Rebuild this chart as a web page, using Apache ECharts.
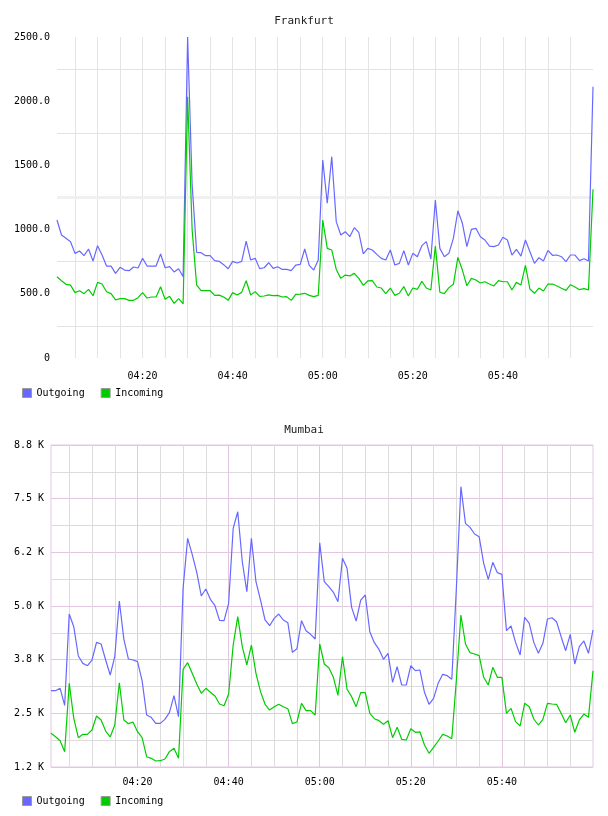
<!DOCTYPE html>
<html><head><meta charset="utf-8">
<script src="https://cdn.jsdelivr.net/npm/echarts@6/dist/echarts.min.js"></script>
<style>html,body{margin:0;padding:0;background:#fff}#c{width:608px;height:816px}</style>
</head><body><div id="c"></div>
<script>
// Categories: one sample per minute, 04:01 .. 06:00
const minutes = [];
for (let m = 241; m <= 360; m++) {
  minutes.push(String(Math.floor(m / 60)).padStart(2, '0') + ':' + String(m % 60).padStart(2, '0'));
}
const xTickLabels = ['04:20', '04:40', '05:00', '05:20', '05:40'];
const frankfurtYTicks = [0, 500, 1000, 1500, 2000, 2500];
const frankfurtYLabels = ['0', '500.0', '1000.0', '1500.0', '2000.0', '2500.0'];
const mumbaiYTicks = [1250, 2500, 3750, 5000, 6250, 7500, 8750];
const mumbaiYLabels = ['1.2 K', '2.5 K', '3.8 K', '5.0 K', '6.2 K', '7.5 K', '8.8 K'];
const seriesNames = ['Outgoing', 'Incoming'];

const frankfurtOutgoing = [1075,958,932,906,815,833,797,849,755,875,802,716,716,659,706,685,680,709,701,776,
716,716,716,810,703,711,670,695,633,2500,1350,823,820,797,797,758,753,727,695,753,
740,753,911,763,776,696,703,742,698,711,690,690,680,724,729,849,722,685,763,1542,
1205,1568,1062,958,984,945,1015,979,810,854,841,807,776,763,841,724,737,836,724,815,
789,875,906,771,1230,854,789,815,932,1147,1049,867,1002,1010,945,919,872,867,880,940,
919,802,846,794,919,828,737,781,755,838,800,802,789,750,802,802,758,773,755,2113];
const frankfurtIncoming = [633,602,574,568,509,524,501,535,485,589,576,516,501,452,462,462,449,449,470,509,
467,475,475,555,457,480,426,462,421,2035,1000,568,524,524,524,488,490,475,449,509,
490,511,602,491,517,480,483,491,486,488,475,478,449,496,498,504,488,478,488,1075,
854,841,690,620,646,639,659,620,566,600,602,553,545,501,545,488,504,556,483,545,
535,597,545,530,872,512,501,548,574,784,685,563,620,607,584,594,576,561,602,594,
594,530,589,569,722,537,504,545,522,576,576,561,543,527,571,553,532,540,530,1314];
const mumbaiOutgoing = [3028,3028,3083,2686,4813,4518,3835,3664,3609,3742,4153,4115,3742,3393,3819,5116,4224,3765,3742,3703,
3261,2461,2407,2267,2267,2360,2515,2911,2422,5411,6576,6204,5784,5233,5396,5155,5007,4666,4658,5062,
6809,7196,6031,5333,6576,5566,5139,4674,4541,4713,4813,4674,4612,3921,4005,4658,4425,4340,4231,6474,
5566,5450,5318,5100,6110,5877,4969,4650,5139,5256,4401,4145,3991,3758,3898,3222,3586,3160,3160,3609,
3493,3509,2990,2710,2850,3199,3409,3377,3292,5411,7779,6925,6832,6677,6614,5994,5621,6017,5776,5738,
4425,4534,4153,3858,4736,4596,4153,3898,4131,4697,4727,4634,4285,3959,4340,3649,4052,4185,3898,4441];
const mumbaiIncoming = [2034,1956,1863,1607,3199,2383,1933,2011,2011,2112,2438,2345,2088,1949,2228,3213,2345,2259,2298,2073,
1933,1490,1452,1390,1397,1436,1607,1685,1452,3525,3679,3432,3183,2966,3083,2990,2904,2717,2678,2950,
4091,4751,4052,3626,4091,3432,3005,2710,2577,2655,2710,2655,2608,2259,2298,2733,2562,2562,2461,4115,
3649,3563,3339,2919,3819,3060,2888,2655,2981,2981,2500,2375,2329,2244,2329,1933,2174,1895,1879,2142,
2058,2070,1762,1569,1708,1856,2011,1972,1910,3276,4790,4115,3913,3882,3843,3339,3160,3571,3339,3339,
2500,2616,2306,2205,2733,2655,2368,2228,2360,2733,2717,2710,2500,2282,2461,2058,2345,2484,2407,3493];

const FONT = 'DejaVu Sans Mono';
const BLUE = '#6868ff', GREEN = '#00cc00';
const PURPLE = '#e2c6e2', GREY_T = '#e4e4e4', GREY_B = '#dcdcdc';
const minuteOf = v => { const p = v.split(':'); return (+p[0]) * 60 + (+p[1]); };
const lastIdx = minutes.length - 1;

function xAxisBase(gridIndex, margin) {
  return {
    type: 'category', gridIndex, data: minutes, boundaryGap: false,
    axisLine: { show: false }, axisTick: { show: false },
    axisLabel: {
      interval: (i, v) => xTickLabels.includes(v),
      fontFamily: FONT, fontSize: 10, color: '#000', margin
    }
  };
}
function lineSeries(name, data, color, xi, yi) {
  return {
    name, type: 'line', data, xAxisIndex: xi, yAxisIndex: yi, z: 3,
    symbol: 'none', showSymbol: false, animation: false, silent: true,
    lineStyle: { color, width: 1.2 }, itemStyle: { color }
  };
}
function legendAt(top) {
  return {
    top, left: 22, padding: 0, itemWidth: 9, itemHeight: 9, itemGap: 16, icon: 'rect',
    selectedMode: false, data: seriesNames,
    itemStyle: { borderColor: '#999', borderWidth: 1 },
    textStyle: { fontFamily: FONT, fontSize: 10, color: '#000' }
  };
}
function titleAt(text, top) {
  return { text, left: 'center', top, padding: 0,
    textStyle: { fontFamily: FONT, fontSize: 11, fontWeight: 'normal', color: '#222' } };
}

const chart = echarts.init(document.getElementById('c'), null, { renderer: 'canvas' });
chart.setOption({
  animation: false,
  backgroundColor: '#fff',
  title: [titleAt('Frankfurt', 16), titleAt('Mumbai', 425)],
  legend: [legendAt(388), legendAt(796)],
  grid: [
    { left: 57, top: 37, width: 536, height: 321, show: false },
    { left: 51, top: 445, width: 542, height: 322, show: true, borderColor: PURPLE, borderWidth: 1, backgroundColor: 'transparent' }
  ],
  xAxis: [
    Object.assign(xAxisBase(0, 13), {
      splitLine: { show: true, interval: (i, v) => i !== lastIdx && minuteOf(v) % 5 === 0,
        lineStyle: { color: GREY_T, width: 1 } }
    }),
    Object.assign(xAxisBase(1, 10), {
      splitLine: { show: true, interval: (i, v) => i !== lastIdx && minuteOf(v) % 5 === 0 && minuteOf(v) % 20 !== 0,
        lineStyle: { color: GREY_B, width: 1 } }
    }),
    Object.assign(xAxisBase(1, 10), {
      axisLabel: { show: false },
      splitLine: { show: true, interval: (i, v) => i !== lastIdx && minuteOf(v) % 20 === 0,
        lineStyle: { color: PURPLE, width: 1 } }
    })
  ],
  yAxis: [
    {
      type: 'value', gridIndex: 0, min: 0, max: 2500, interval: 250,
      axisLine: { show: false }, axisTick: { show: false },
      axisLabel: {
        margin: 7, fontFamily: FONT, fontSize: 10, color: '#000',
        formatter: v => { const k = frankfurtYTicks.indexOf(v); return k >= 0 ? frankfurtYLabels[k] : ''; }
      },
      splitLine: { show: true, lineStyle: { color: ['rgba(0,0,0,0)', GREY_T], width: 1 } }
    },
    {
      type: 'value', gridIndex: 1, min: 1250, max: 8750, interval: 625,
      axisLine: { show: false }, axisTick: { show: false },
      axisLabel: {
        margin: 7, fontFamily: FONT, fontSize: 10, color: '#000',
        formatter: v => { const k = mumbaiYTicks.indexOf(v); return k >= 0 ? mumbaiYLabels[k] : ''; }
      },
      splitLine: { show: true, lineStyle: { color: [PURPLE, GREY_B], width: 1 } }
    }
  ],
  series: [
    {
      name: 'band', type: 'line', data: [], xAxisIndex: 0, yAxisIndex: 0, z: 1, silent: true,
      markLine: { silent: true, z: 1, symbol: 'none', label: { show: false }, animation: false,
        lineStyle: { color: '#f0f0f0', width: 3, type: 'solid' }, data: [{ yAxis: 1250 }] }
    },
    lineSeries('Outgoing', frankfurtOutgoing, BLUE, 0, 0),
    lineSeries('Incoming', frankfurtIncoming, GREEN, 0, 0),
    lineSeries('Outgoing', mumbaiOutgoing, BLUE, 1, 1),
    lineSeries('Incoming', mumbaiIncoming, GREEN, 1, 1)
  ]
});
</script>
</body></html>
